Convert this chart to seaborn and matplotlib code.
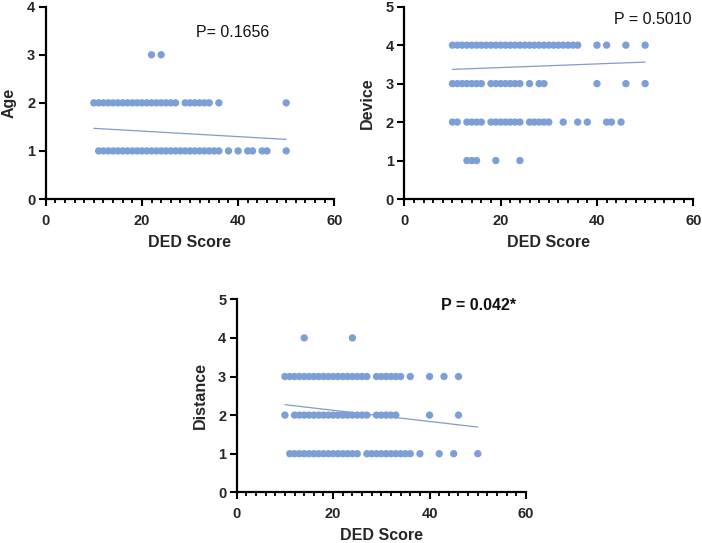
import matplotlib
matplotlib.use("Agg")
import matplotlib.pyplot as plt
from matplotlib.ticker import MultipleLocator
import seaborn as sns
import pandas as pd

# ---------------- data ----------------
age_1 = [11, 12, 13, 14, 15, 16, 17, 18, 19, 20, 21, 22, 23, 24, 25, 26, 27, 28,
         29, 30, 31, 32, 33, 34, 35, 36, 38, 40, 42, 43, 45, 46, 50]
age_2 = [10, 11, 12, 13, 14, 15, 16, 17, 18, 19, 20, 21, 22, 23, 24, 25, 26, 27,
         29, 30, 31, 32, 33, 34, 36, 50]
age_3 = [22, 24]
age_line_x = [10, 50]
age_line_y = [1.47, 1.24]
age_p = "P= 0.1656"

dev_1 = [13, 14, 15, 19, 24]
dev_2 = [10, 11, 13, 14, 15, 16, 18, 19, 20, 21, 22, 23, 24, 26, 27, 28, 29, 30,
         33, 36, 38, 42, 43, 45]
dev_3 = [10, 11, 12, 13, 14, 15, 16, 18, 19, 20, 21, 22, 23, 24, 26, 28, 29, 40,
         46, 50]
dev_4 = [10, 11, 12, 13, 14, 15, 16, 17, 18, 19, 20, 21, 22, 23, 24, 25, 26, 27,
         28, 29, 30, 31, 32, 33, 34, 35, 36, 40, 42, 46, 50]
dev_line_x = [10, 50]
dev_line_y = [3.37, 3.56]
dev_p = "P = 0.5010"

dist_1 = [11, 12, 13, 14, 15, 16, 17, 18, 19, 20, 21, 22, 23, 24, 25, 27, 28, 29,
          30, 31, 32, 33, 34, 35, 36, 38, 42, 45, 50]
dist_2 = [10, 12, 13, 14, 15, 16, 17, 18, 19, 20, 21, 22, 23, 24, 25, 26, 27, 29,
          30, 31, 32, 33, 40, 46]
dist_3 = [10, 11, 12, 13, 14, 15, 16, 17, 18, 19, 20, 21, 22, 23, 24, 25, 26, 27,
          29, 30, 31, 32, 33, 34, 36, 40, 43, 46]
dist_4 = [14, 24]
dist_line_x = [10, 50]
dist_line_y = [2.27, 1.69]
dist_p = "P = 0.042*"

x_label = "DED Score"

# ---------------- style ----------------
sns.set_style("ticks")
plt.rcParams["font.family"] = ["Liberation Sans", "DejaVu Sans"]

DOT = "#7b9fd6"
LINE = "#7f9ccb"


def to_frame(levels):
    rows = []
    for val, xs in levels:
        rows += [(x, val) for x in xs]
    return pd.DataFrame(rows, columns=["x", "y"])


fig = plt.figure(figsize=(7.02, 5.43), dpi=100)
W, H = 702, 543


def make_ax(x0, x1, ytop, ybot):
    return fig.add_axes([x0 / W, 1 - ybot / H, (x1 - x0) / W, (ybot - ytop) / H])


ax1 = make_ax(45.7, 334.3, 6.7, 199.0)
ax2 = make_ax(404.3, 693.3, 6.7, 199.0)
ax3 = make_ax(236.7, 526.0, 299.3, 492.3)

panels = [
    (ax1, [(1, age_1), (2, age_2), (3, age_3)], age_line_x, age_line_y, "Age", 4,
     age_p, (0.52, 0.865), "normal"),
    (ax2, [(1, dev_1), (2, dev_2), (3, dev_3), (4, dev_4)], dev_line_x, dev_line_y,
     "Device", 5, dev_p, (0.727, 0.932), "normal"),
    (ax3, [(1, dist_1), (2, dist_2), (3, dist_3), (4, dist_4)], dist_line_x,
     dist_line_y, "Distance", 5, dist_p, (0.705, 0.967), "bold"),
]

for ax, levels, lx, ly, ylab, ymax, ptxt, ppos, pw in panels:
    df = to_frame(levels)
    sns.scatterplot(data=df, x="x", y="y", ax=ax, color=DOT, s=28,
                    edgecolor="none", linewidth=0, clip_on=False, zorder=3)
    sns.lineplot(x=lx, y=ly, ax=ax, color=LINE, linewidth=0.9, zorder=2)
    ax.set_xlim(0, 60)
    ax.set_ylim(0, ymax)
    ax.xaxis.set_major_locator(MultipleLocator(20))
    ax.xaxis.set_minor_locator(MultipleLocator(2))
    ax.yaxis.set_major_locator(MultipleLocator(1))
    sns.despine(ax=ax)
    for s in ["left", "bottom"]:
        ax.spines[s].set_linewidth(1.6)
        ax.spines[s].set_color("black")
    ax.tick_params(axis="both", which="major", length=5, width=1.5,
                   labelsize=10.5, color="black")
    ax.tick_params(axis="x", which="major", pad=5.5)
    ax.tick_params(axis="y", which="major", pad=2.5)
    ax.tick_params(axis="x", which="minor", length=3.2, width=1.3, color="black")
    for lbl in ax.get_xticklabels() + ax.get_yticklabels():
        lbl.set_fontweight("bold")
    ax.set_xlabel(x_label, fontsize=11.5, fontweight="bold", labelpad=5)
    ax.set_ylabel(ylab, fontsize=11.5, fontweight="bold", labelpad=7.5)
    ax.text(ppos[0], ppos[1], ptxt, transform=ax.transAxes, fontsize=11.5,
            fontweight=pw, ha="left", va="center", color="#111111")

fig.savefig("out.png", dpi=100)
